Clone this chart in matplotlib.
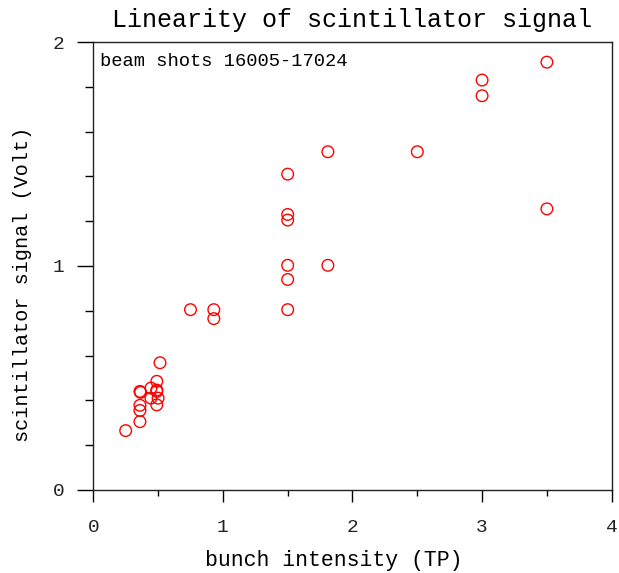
import matplotlib
matplotlib.use("Agg")
import matplotlib.pyplot as plt
from matplotlib.ticker import MultipleLocator

# bunch intensity (TP) vs scintillator signal (Volt)
intensity = [3.50, 3.00, 3.00, 1.81, 2.50, 1.50, 1.50, 1.50, 3.50, 1.50,
             1.81, 1.50, 1.50, 0.75, 0.93, 0.93, 0.515, 0.49, 0.445, 0.49,
             0.49, 0.445, 0.50, 0.49, 0.36, 0.365, 0.36, 0.36, 0.36, 0.25]
signal = [1.91, 1.83, 1.76, 1.51, 1.51, 1.41, 1.23, 1.205, 1.255, 1.003,
          1.003, 0.94, 0.805, 0.805, 0.805, 0.765, 0.568, 0.485, 0.455, 0.440,
          0.446, 0.410, 0.410, 0.380, 0.440, 0.436, 0.378, 0.355, 0.305, 0.265]

xticks = [0, 1, 2, 3, 4]
yticks = [0, 1, 2]

mono = "Liberation Mono"

fig = plt.figure(figsize=(6.19, 5.73), dpi=100)
ax = fig.add_axes([0.1507, 0.1449, 0.8375, 0.7818])

ax.scatter(intensity, signal, s=70, facecolors="none", edgecolors="red",
           linewidths=1.0, zorder=3)

ax.set_xlim(0, 4)
ax.set_ylim(0, 2)
ax.set_xticks(xticks)
ax.set_yticks(yticks)
ax.xaxis.set_minor_locator(MultipleLocator(0.5))
ax.yaxis.set_minor_locator(MultipleLocator(0.2))

ax.tick_params(axis="x", which="major", direction="out", length=8.6, width=1.0, pad=12)
ax.tick_params(axis="x", which="minor", direction="out", length=4.3, width=1.0)
ax.tick_params(axis="y", which="major", direction="out", length=11.5, width=1.0, pad=9)
ax.tick_params(axis="y", which="minor", direction="out", length=5.8, width=1.0)

for lab in ax.get_xticklabels() + ax.get_yticklabels():
    lab.set_family(mono)
    lab.set_fontsize(14)
    lab.set_color("#222222")

for sp in ax.spines.values():
    sp.set_linewidth(1.0)
    sp.set_color("#222222")

ax.set_title("Linearity of scintillator signal", family=mono, fontsize=18, pad=11)
ax.set_xlabel("bunch intensity (TP)", family=mono, fontsize=15.5)
ax.xaxis.set_label_coords(0.464, -0.135)
ax.set_ylabel("scintillator signal (Volt)", family=mono, fontsize=14.5)
ax.yaxis.set_label_coords(-0.118, 0.46)
ax.text(0.012, 0.975, "beam shots 16005-17024", transform=ax.transAxes,
        family=mono, fontsize=13.5, va="top", ha="left")

fig.savefig("out.png", dpi=100)
